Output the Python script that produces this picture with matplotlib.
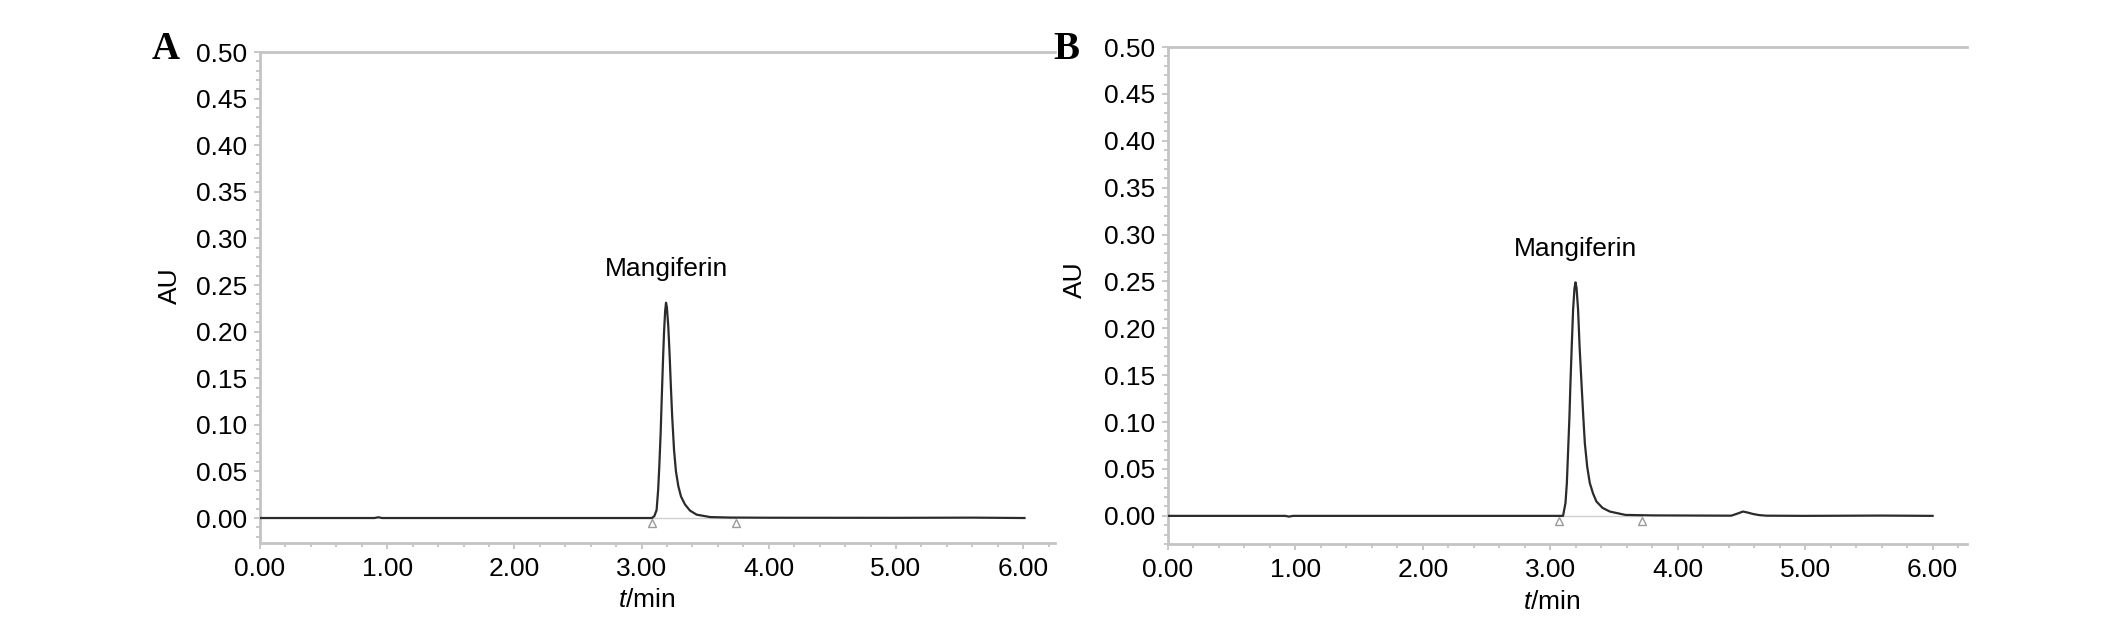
import matplotlib
matplotlib.use("Agg")
import matplotlib.pyplot as plt
from matplotlib.ticker import MultipleLocator, FormatStrFormatter

plt.rcParams['font.family'] = ['Liberation Sans', 'DejaVu Sans']
plt.rcParams['mathtext.fontset'] = 'custom'
plt.rcParams['mathtext.it'] = 'Liberation Sans:italic'
plt.rcParams['mathtext.rm'] = 'Liberation Sans'

# ---------------- data ----------------
time_A = [0.00, 0.50, 0.90, 0.93, 0.96, 1.50, 2.00, 2.50, 2.90, 3.08, 3.10, 3.118, 3.13,
          3.139, 3.15, 3.158, 3.168, 3.176, 3.185, 3.192, 3.199, 3.21, 3.22, 3.229, 3.24,
          3.255, 3.27, 3.289, 3.31, 3.341, 3.38, 3.433, 3.54, 3.70, 4.00, 5.00, 5.60, 6.01]
au_A = [0, 0, 0, 0.0008, 0, 0, 0, 0, 0, 0, 0.002, 0.0086, 0.03,
        0.055, 0.092, 0.127, 0.168, 0.198, 0.222, 0.231, 0.226, 0.205, 0.176, 0.145, 0.11,
        0.073, 0.05, 0.034, 0.023, 0.0146, 0.008, 0.0036, 0.001, 0.0005, 0.0003, 0.0002, 0.0004, 0]

time_B = [0.00, 0.50, 0.92, 0.95, 0.98, 1.50, 2.00, 2.50, 3.00, 3.10, 3.119, 3.13, 3.140,
          3.15, 3.158, 3.168, 3.179, 3.19, 3.198, 3.206, 3.218, 3.23, 3.245, 3.258, 3.271,
          3.29, 3.31, 3.335, 3.362, 3.41, 3.467, 3.59, 3.80, 4.20, 4.42, 4.47, 4.512, 4.55,
          4.591, 4.64, 4.695, 5.00, 5.60, 6.00]
au_B = [0, 0, 0, -0.0008, 0, 0, 0, 0, 0, 0, 0.0135, 0.035, 0.07,
        0.105, 0.141, 0.18, 0.220, 0.243, 0.249, 0.243, 0.220, 0.18, 0.141, 0.108, 0.0775,
        0.052, 0.035, 0.024, 0.0153, 0.0085, 0.0046, 0.001, 0.0005, 0.0003, 0.0002, 0.0025, 0.0046, 0.0035,
        0.002, 0.0008, 0.0002, 0, 0.0003, 0]

peak_label = "Mangiferin"
peak_A = (3.192, 0.231)
peak_B = (3.198, 0.249)
marks_A = [3.08, 3.74]   # integration start / end markers
marks_B = [3.07, 3.72]
panel_letters = ["A", "B"]
x_label = r"$t$/min"
y_label = "AU"

# ---------------- figure ----------------
W, H = 2126, 623
fig = plt.figure(figsize=(W / 100, H / 100), dpi=100)

def frac(left, top, right, bottom):
    return [left / W, 1 - bottom / H, (right - left) / W, (bottom - top) / H]

axA = fig.add_axes(frac(260, 52, 1055, 543))
axB = fig.add_axes(frac(1168, 47, 1967, 544))

GRAY = '#c4c4c4'
TRACE = '#2b2b2b'
FS = 19

def style(ax, ymin, xmax):
    ax.set_xlim(0, xmax)
    ax.set_ylim(ymin, 0.50)
    for s in ['left', 'bottom', 'top']:
        ax.spines[s].set_color(GRAY)
        ax.spines[s].set_linewidth(2)
    ax.spines['right'].set_visible(False)
    ax.xaxis.set_major_locator(MultipleLocator(1.0))
    ax.xaxis.set_minor_locator(MultipleLocator(0.2))
    ax.yaxis.set_major_locator(MultipleLocator(0.05))
    ax.yaxis.set_minor_locator(MultipleLocator(0.01))
    ax.xaxis.set_major_formatter(FormatStrFormatter('%.2f'))
    ax.yaxis.set_major_formatter(FormatStrFormatter('%.2f'))
    ax.tick_params(which='both', direction='out', color=GRAY, width=1.3,
                   labelsize=FS, labelcolor='black', top=False, right=False)
    ax.tick_params(which='major', length=4.5)
    ax.tick_params(which='minor', length=3)
    ax.tick_params(axis='x', which='major', pad=5.5)
    ax.tick_params(axis='y', which='major', pad=5)

style(axA, -0.0268, 6.25)
style(axB, -0.030, 6.27)

for ax, t, a, pk, mk, lab_x, ylab_x, ylab_y in [
        (axA, time_A, au_A, peak_A, marks_A, 0.486, -0.113, 0.525),
        (axB, time_B, au_B, peak_B, marks_B, 0.48, -0.116, 0.531)]:
    ax.plot([mk[0], mk[1]], [0, 0], color='#d0d0d0', lw=1.0, zorder=1)
    ax.plot(t, a, color=TRACE, lw=1.6, zorder=3, solid_joinstyle='round')
    ax.plot(mk, [-0.0055, -0.0055], linestyle='none', marker='^', ms=5.5,
            mfc='none', mec='#9a9a9a', mew=1.0, zorder=2)
    ax.annotate(peak_label, xy=pk, xytext=(0, 24), textcoords='offset points',
                ha='center', va='center', fontsize=FS)
    ax.set_xlabel(x_label, fontsize=FS)
    ax.xaxis.set_label_coords(lab_x, -0.117)
    ax.xaxis.label.set_va('center')
    ax.set_ylabel(y_label, fontsize=FS)
    ax.yaxis.set_label_coords(ylab_x, ylab_y)
    ax.yaxis.label.set_va('center')

fig.text(152 / W, 1 - 59 / H, panel_letters[0], family='Liberation Serif',
         weight='bold', fontsize=28, ha='left', va='baseline')
fig.text(1053 / W, 1 - 59 / H, panel_letters[1], family='Liberation Serif',
         weight='bold', fontsize=28, ha='left', va='baseline')

fig.savefig('out.png', dpi=100)
